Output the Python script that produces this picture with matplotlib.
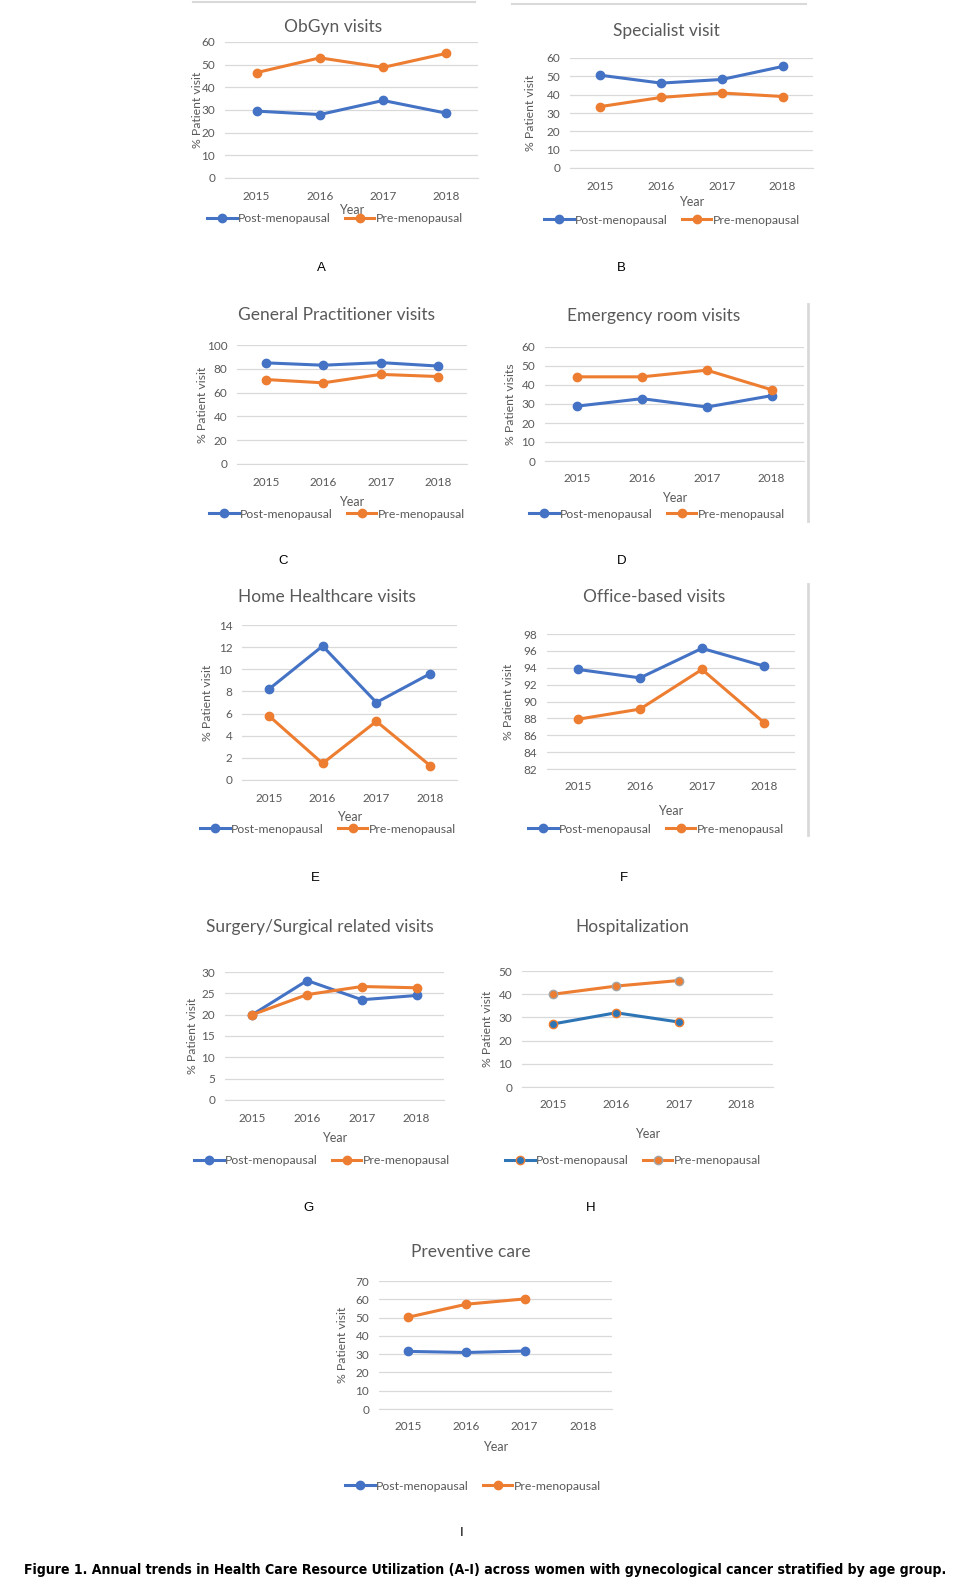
import numpy as np
import matplotlib.pyplot as plt
from matplotlib.lines import Line2D

plt.rcParams['font.family'] = ['Lato', 'DejaVu Sans']

# dados (% de pacientes por ano)
years = ["2015", "2016", "2017", "2018"]

obgyn_post = [29.5, 28.0, 34.2, 28.6]
obgyn_pre = [46.5, 53.0, 48.8, 55.0]

specialist_post = [50.6, 46.3, 48.3, 55.4]
specialist_pre = [33.5, 38.5, 40.9, 39.0]

gp_post = [85.0, 83.0, 85.2, 82.3]
gp_pre = [71.0, 68.2, 75.3, 73.5]

er_post = [28.9, 32.8, 28.4, 34.4]
er_pre = [44.3, 44.3, 47.8, 37.5]

home_post = [8.2, 12.1, 7.0, 9.6]
home_pre = [5.8, 1.5, 5.3, 1.3]

office_post = [93.8, 92.8, 96.3, 94.2]
office_pre = [87.9, 89.1, 93.8, 87.5]

surgery_post = [20.0, 28.0, 23.5, 24.5]
surgery_pre = [20.0, 24.7, 26.6, 26.3]

hosp_post = [27.2, 32.0, 28.0, np.nan]
hosp_pre = [40.0, 43.5, 45.9, np.nan]

prev_post = [31.5, 30.9, 31.7, np.nan]
prev_pre = [50.2, 57.3, 60.2, np.nan]

BLUE = "#4472C4"
ORANGE = "#ED7D31"
GRAY_TXT = "#595959"
GRID = "#D9D9D9"

W, H = 955, 1582
fig = plt.figure(figsize=(W / 100, H / 100), dpi=100)
fig.patch.set_facecolor("white")


def fx(x):
    return x / W


def fy(y):
    return 1 - y / H


# (titulo, post, pre, yticks, ylabel, caixa px, titulo xy, ylabel x, year y, legenda xy, letra, letra xy)
panels = [
    ("ObGyn visits", obgyn_post, obgyn_pre, np.arange(0, 61, 10), "% Patient visit",
     (225, 478, 42, 178), (333, 27), 197, 210, (335, 219), "A", (321, 268)),
    ("Specialist visit", specialist_post, specialist_pre, np.arange(0, 61, 10), "% Patient visit",
     (570, 813, 58, 168), (666, 31), 530, 202, (672, 220), "B", (621, 268)),
    ("General Practitioner visits", gp_post, gp_pre, np.arange(0, 101, 20), "% Patient visit",
     (237, 467, 345, 464), (336, 315), 202, 502, (337, 514), "C", (283, 561)),
    ("Emergency room visits", er_post, er_pre, np.arange(0, 61, 10), "% Patient visits",
     (545, 804, 347, 461), (654, 316), 510, 498, (657, 514), "D", (622, 561)),
    ("Home Healthcare visits", home_post, home_pre, np.arange(0, 15, 2), "% Patient visit",
     (242, 457, 625, 780), (327, 597), 207, 817, (328, 829), "E", (315, 878)),
    ("Office-based visits", office_post, office_pre, np.arange(82, 99, 2), "% Patient visit",
     (547, 795, 634, 769), (654, 597), 508, 811, (656, 829), "F", (624, 878)),
    ("Surgery/Surgical related visits", surgery_post, surgery_pre, np.arange(0, 31, 5), "% Patient visit",
     (225, 444, 972, 1100), (320, 927), 192, 1138, (322, 1161), "G", (309, 1208)),
    ("Hospitalization", hosp_post, hosp_pre, np.arange(0, 51, 10), "% Patient visit",
     (522, 773, 971, 1087), (632, 927), 487, 1134, (633, 1161), "H", (591, 1208)),
    ("Preventive care", prev_post, prev_pre, np.arange(0, 71, 10), "% Patient visit",
     (379, 612, 1281, 1409), (471, 1252), 342, 1447, (473, 1486), "I", (462, 1533)),
]

x = np.arange(len(years))

for title, post, pre, yt, ylab, bx, txy, ylx, yry, lxy, letter, lexy in panels:
    x0, x1, ytop, ybot = bx
    ax = fig.add_axes([fx(x0), fy(ybot), (x1 - x0) / W, (ybot - ytop) / H])

    if title == "Hospitalization":
        p_line, p_face, p_edge = "#2E75B6", "#2E75B6", ORANGE
        q_line, q_face, q_edge = ORANGE, ORANGE, "#A5A5A5"
    else:
        p_line, p_face, p_edge = BLUE, BLUE, BLUE
        q_line, q_face, q_edge = ORANGE, ORANGE, ORANGE

    ax.plot(x, post, color=p_line, lw=2.2, marker="o", ms=6,
            mfc=p_face, mec=p_edge, mew=1.0, zorder=3)
    ax.plot(x, pre, color=q_line, lw=2.2, marker="o", ms=6,
            mfc=q_face, mec=q_edge, mew=1.0, zorder=3)

    ax.set_xlim(-0.5, len(years) - 0.5)
    ax.set_ylim(yt[0], yt[-1])
    ax.set_yticks(yt)
    ax.set_xticks(x)
    ax.set_xticklabels(years)
    ax.grid(axis="y", color=GRID, lw=0.9)
    ax.set_axisbelow(True)
    for s in ["top", "right", "left"]:
        ax.spines[s].set_visible(False)
    ax.spines["bottom"].set_color(GRID)
    ax.tick_params(length=0, colors=GRAY_TXT, labelsize=8.5)
    ax.tick_params(axis="y", pad=7)
    ax.tick_params(axis="x", pad=9)

    fig.text(fx(txy[0]), fy(txy[1]), title, ha="center", va="center",
             fontsize=12.5, color=GRAY_TXT)
    fig.text(fx(ylx), fy((ytop + ybot) / 2), ylab, rotation=90,
             ha="center", va="center", fontsize=8.8, color=GRAY_TXT)
    fig.text(fx((x0 + x1) / 2), fy(yry), "Year", ha="center", va="center",
             fontsize=9, color=GRAY_TXT)

    handles = [
        Line2D([], [], color=p_line, lw=2.2, marker="o", ms=6, mfc=p_face, mec=p_edge),
        Line2D([], [], color=q_line, lw=2.2, marker="o", ms=6, mfc=q_face, mec=q_edge),
    ]
    leg = fig.legend(handles, ["Post-menopausal", "Pre-menopausal"], loc="center",
                     bbox_to_anchor=(fx(lxy[0]), fy(lxy[1])), ncol=2, frameon=False,
                     fontsize=8.8, handlelength=2.4, handletextpad=0.1,
                     columnspacing=1.2, borderpad=0)
    for t in leg.get_texts():
        t.set_color(GRAY_TXT)

    fig.text(fx(lexy[0]), fy(lexy[1]), letter, ha="center", va="center",
             fontsize=9.5, color="black", family=["Liberation Sans", "DejaVu Sans"])

# bordas cinza que aparecem na figura original
fig.add_artist(Line2D([fx(193), fx(475)], [fy(2), fy(2)], color=GRID, lw=1.5))
fig.add_artist(Line2D([fx(512), fx(806)], [fy(4), fy(4)], color=GRID, lw=1.5))
fig.add_artist(Line2D([fx(808), fx(808)], [fy(304), fy(521)], color=GRID, lw=2))
fig.add_artist(Line2D([fx(808), fx(808)], [fy(584), fy(835)], color=GRID, lw=2))

caption = fig.text(fx(485), fy(1570),
                   "Figure 1. Annual trends in Health Care Resource Utilization (A-I) across "
                   "women with gynecological cancer stratified by age group.",
                   ha="center", va="center", fontsize=11, fontweight="bold", color="black",
                   family=["DejaVu Sans"], fontstretch="condensed")

# ajusta o tamanho da legenda para ocupar a largura original (~926 px)
fig.canvas.draw()
wpx = caption.get_window_extent().width
caption.set_fontsize(11 * 926 / wpx)

plt.savefig("out.png", dpi=100, facecolor="white")
plt.close()
